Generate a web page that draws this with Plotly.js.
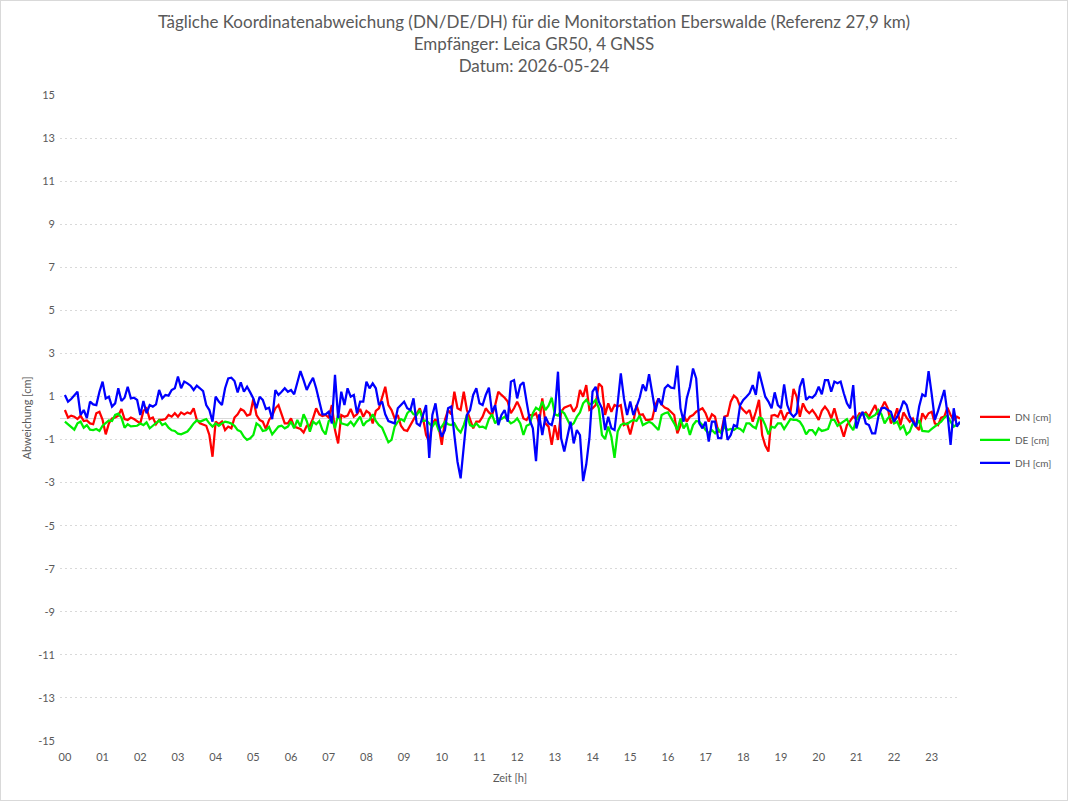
<!DOCTYPE html>
<html>
<head>
<meta charset="utf-8">
<script src="https://cdn.plot.ly/plotly-3.0.1.min.js"></script>
<style>
html,body{margin:0;padding:0;background:#fff;}
#chart{width:1066px;height:799px;border:1px solid #d9d9d9;}
</style>
</head>
<body>
<div id="chart"></div>
<script>
// Sampling interval of the monitor station (minutes)
const intervalMinutes = 5;

const hourLabels = ["00","01","02","03","04","05","06","07","08","09","10","11","12","13","14","15","16","17","18","19","20","21","22","23"];
const hourTicks = [0,1,2,3,4,5,6,7,8,9,10,11,12,13,14,15,16,17,18,19,20,21,22,23];
const yTicks = [-15,-13,-11,-9,-7,-5,-3,-1,1,3,5,7,9,11,13,15];
const yTickLabels = ["-15","-13","-11","-9","-7","-5","-3","-1","1","3","5","7","9","11","13","15"];

const dn = [
0.37,0.02,0.11,0.06,-0.05,0.11,-0.14,-0.11,-0.25,-0.29,0.22,0.29,-0.09,-0.76,-0.25,-0.02,0.02,0.11,0.42,-0.05,-0.09,0.02,-0.05,
-0.17,-0.25,0.33,0.45,-0.05,0.02,-0.29,-0.09,-0.09,-0.05,0.14,0.06,0.22,0.06,0.26,0.17,0.26,0.2,0.45,-0.09,-0.25,-0.29,-0.36,-0.79,
-1.8,-0.17,-0.29,-0.17,-0.56,-0.4,-0.48,0.02,0.17,0.42,0.33,0.11,0.17,0.88,0.14,-0.09,-0.17,-0.51,-0.09,0.11,0.45,0.6,0.14,-0.25,
-0.25,-0.02,-0.4,-0.45,-0.51,-0.67,-0.36,-0.36,-0.02,0.45,0.17,0.09,0.14,0.02,0.6,-0.56,-1.18,0.14,0.06,0.11,0.42,0.06,0.17,0.42,
0.06,0.33,0.22,-0.25,0.33,0.45,0.94,1.45,0.6,0.37,-0.02,0.14,-0.36,-0.56,-0.6,-0.33,-0.02,0.22,0.45,0.02,-0.79,-1.1,-0.25,-0.05,
-0.4,-1.25,-0.09,0.37,0.17,1.22,0.45,0.37,1.22,0.37,-0.09,-0.48,-0.17,-0.17,0.06,0.45,0.26,0.14,0.6,1.22,1.07,0.94,0.76,0.22,
0.45,0.76,0.45,-0.02,-0.09,0.14,0.11,0.22,-0.25,0.91,-0.25,-0.4,-1.25,-0.33,-1.02,0.29,0.48,0.53,0.6,0.29,0.53,1.3,0.99,1.53,
0.37,0.45,0.6,1.6,1.45,0.14,0.68,0.29,0.6,0.53,0.6,-0.33,-0.25,-0.76,-0.17,0.6,0.14,0.17,-0.09,-0.09,-0.05,0.6,0.91,0.63,
0.48,0.42,0.29,0.14,-0.71,-0.36,0.14,-0.17,0.06,0.14,0.29,0.37,0.45,0.22,-0.17,0.17,0.06,-0.63,-0.63,0.06,0.11,0.76,1.04,
0.91,0.53,0.37,0.22,0.37,-0.17,0.29,0.84,-0.79,-1.28,-1.56,0.11,0.14,0.06,0.37,-0.09,0.22,0.26,1.35,0.99,0.06,0.68,0.37,0.22,
0.37,0.17,-0.09,0.33,0.53,0.33,-0.02,0.45,-0.09,-0.4,-0.87,-0.33,-0.14,0.06,-0.05,0.22,0.17,0.26,0.06,0.37,0.6,0.14,0.45,0.76,
0.45,-0.25,-0.02,0.45,-0.33,0.26,0.02,-0.17,-0.02,-0.4,-0.56,0.22,-0.02,0.22,0.29,-0.25,-0.33,0.02,0.06,0.48,0.14,-0.09,0.06,-0.02
];

const de = [
-0.17,-0.29,-0.39,-0.54,-0.25,-0.17,-0.45,-0.33,-0.54,-0.56,-0.51,-0.6,-0.36,-0.25,-0.11,-0.14,0.14,0.2,0.02,-0.45,-0.29,-0.39,-0.39,
-0.36,-0.26,-0.33,-0.2,-0.48,-0.36,-0.25,-0.11,-0.33,-0.25,-0.45,-0.57,-0.6,-0.73,-0.76,-0.7,-0.63,-0.45,-0.25,-0.11,-0.17,-0.11,-0.05,-0.25,
-0.4,-0.25,-0.36,-0.25,-0.17,-0.2,-0.26,-0.36,-0.56,-0.63,-0.87,-1.02,-0.94,-0.79,-0.25,-0.36,-0.6,-0.57,-0.42,-0.76,-0.6,-0.4,-0.36,-0.48,
-0.4,-0.17,-0.48,-0.09,-0.4,0.17,-0.14,-0.63,-0.17,-0.29,-0.14,-0.56,-0.76,-0.14,-0.02,-0.48,0.17,-0.25,-0.29,-0.33,-0.17,-0.36,-0.14,0.06,
-0.36,-0.17,-0.09,0.17,-0.14,-0.33,-0.45,-0.76,-1.13,-1.02,-0.4,-0.17,-0.05,-0.14,0.22,0.37,0.17,0.14,0.37,-0.14,-0.11,-0.25,-0.4,-0.17,
-0.56,-0.4,-0.17,-0.29,-0.33,-0.25,-0.51,-0.67,-0.33,0.14,-0.33,-0.4,-0.25,-0.42,-0.4,-0.48,-0.05,0.17,-0.25,-0.02,-0.05,0.06,-0.09,-0.25,
-0.17,-0.02,-0.25,-0.79,-0.36,-0.29,0.22,0.48,0.37,0.76,0.37,0.57,0.94,0.17,0.11,0.33,0.22,-0.09,-0.36,-0.25,0.06,0.26,0.68,0.84,
0.63,0.68,0.84,0.45,-0.79,-0.98,-0.4,-0.87,-1.85,-0.63,-0.33,-0.25,-0.29,-0.17,-0.09,-0.14,0.11,-0.33,-0.25,-0.17,-0.25,-0.4,-0.56,0.14,
0.22,0.26,0.02,-0.25,-0.56,-0.02,-0.48,-0.25,-0.79,-0.33,-0.14,-0.17,-0.33,-0.56,-0.71,-0.56,-0.71,-0.51,-0.71,-0.4,-0.56,-0.51,-0.56,
-0.45,-0.51,-0.63,-0.25,-0.25,-0.4,-0.48,0.02,-0.02,-0.33,-0.76,-0.4,-0.45,-0.25,-0.25,-0.51,-0.25,-0.05,-0.09,-0.09,-0.17,-0.4,-0.76,-0.56,
-0.56,-0.76,-0.48,-0.6,-0.56,-0.51,-0.09,-0.09,-0.36,-0.25,-0.17,-0.05,-0.36,-0.56,-0.09,0.11,0.2,0.17,-0.02,0.06,0.14,0.37,0.17,-0.25,
-0.02,0.14,-0.25,-0.17,-0.51,-0.36,-0.76,-0.63,-0.25,-0.36,-0.09,-0.6,-0.6,-0.63,-0.51,-0.4,-0.29,-0.17,0.02,0.11,-0.17,-0.4,-0.29,-0.25
];

const dh = [
1.07,0.76,0.88,1.04,1.22,0.14,0.37,0,0.76,0.63,0.6,1.22,1.69,0.91,0.99,0.53,0.68,1.38,0.79,0.94,1.45,0.91,0.94,
0.84,0.14,0.79,0.22,0.6,0.53,0.63,1.3,0.91,1.07,1.04,1.3,1.38,1.92,1.38,1.69,1.61,1.5,1.3,1.5,1.38,1.25,0.6,0.37,
-0.17,0.99,0.76,0.6,1.38,1.84,1.87,1.72,1.19,1.66,1.22,1.45,1.19,0.91,0.45,0.99,0.84,0.42,0.48,-0.05,1.3,1.07,1.22,1.38,
1.22,1.3,1.1,1.61,2.18,1.76,1.3,1.61,1.87,1.38,0.84,0.17,0.17,0.29,-0.25,2.0,0,1.22,0.6,1.38,0.99,1.07,0.22,0.76,
0.76,1.69,1.38,1.61,1.38,0.6,0.76,0.17,-0.14,-0.2,-0.25,0.45,0.6,0.76,0.45,0.37,0.91,-0.25,-0.36,0.14,0.6,-1.85,0.14,0.68,
-0.33,-0.87,-0.56,0.45,0.53,-0.79,-2.03,-2.8,-1.25,0.14,0.37,1.07,1.38,0.68,0.6,1.07,1.41,0.26,0.6,-0.33,0.14,0.37,-0.17,1.69,
1.76,0.91,1.53,1.66,0.76,-0.09,-0.48,-2.0,0.17,-0.79,0.06,-0.25,-0.33,0.29,2.15,-0.94,-1.56,-0.79,-0.17,-1.18,-0.56,-0.79,-2.93,-2.15,
-0.94,1.22,1.45,0.76,0.45,-0.56,0.06,-0.48,-0.56,0.68,2.07,0.91,0.14,0.76,0.14,0.53,0.94,1.56,1.25,2.03,1.22,0.29,0.91,0.6,
1.38,1.53,1.41,1.38,2.43,0.45,-0.17,0.91,1.45,2.3,1.84,-0.25,-0.48,-0.17,-1.1,-0.17,-0.17,-0.94,-0.94,0.06,-1.02,-0.79,-0.33,
-0.4,0.6,0.84,0.99,1.15,1.53,1.07,2.15,1.61,0.99,0.76,0.45,1.19,0.6,0.45,1.56,0.6,0.22,0.06,0.22,1.45,1.84,0.84,0.99,
0.94,1.1,1.45,1.1,1.76,1.76,1.22,1.69,1.61,1.69,1.15,0.68,0.45,1.53,-0.48,0,0.29,-0.25,-0.33,-0.71,-0.71,0.06,0.45,0.48,
0.37,0.29,-0.17,0.06,0.37,0.79,0.6,0.06,-0.17,-0.4,0.53,1.1,0.99,2.18,1.1,-0.09,0.33,0.84,1.3,0.22,-1.25,0.45,-0.4,-0.17
];

// time of each sample in hours since midnight
const timeHours = dn.map((_, i) => i * intervalMinutes / 60);

const grey = '#595959';
const font = 'Lato, "Open Sans", sans-serif';

const mk = (name, y, color, grp) => ({
  type: 'scatter', mode: 'lines', name: name, x: timeHours, y: y,
  line: {color: color, width: 2.25}, legendgroup: grp
});

const data = [
  mk('DN [cm]', dn, '#ff0000', 'a'),
  mk('DE [cm]', de, '#00ee00', 'b'),
  mk('DH [cm]', dh, '#0000ff', 'c')
];

const W = 1066, H = 799;
const mL = 59, mR = 10, mT = 94, mB = 59;
const plotW = W - mL - mR;

const layout = {
  width: W, height: H,
  margin: {l: mL, r: mR, t: mT, b: mB, autoexpand: false},
  paper_bgcolor: '#fff', plot_bgcolor: '#fff',
  font: {family: font, color: grey, size: 11},
  title: {
    text: 'Tägliche Koordinatenabweichung (DN/DE/DH) für die Monitorstation Eberswalde (Referenz 27,9 km)<br>Empfänger: Leica GR50, 4 GNSS<br>Datum: 2026-05-24',
    font: {family: font, size: 17, color: grey},
    x: 0.5, xanchor: 'center', xref: 'container',
    y: 1 - 27 / H, yanchor: 'middle', yref: 'container'
  },
  xaxis: {
    domain: [0, 900 / plotW],
    range: [-0.13, 23.75],
    tickvals: hourTicks, ticktext: hourLabels,
    showgrid: false, zeroline: false, showline: false,
    ticks: '', ticklabelstandoff: 8, tickfont: {size: 11, color: grey},
    title: {text: 'Zeit [h]', font: {size: 11, color: grey}, standoff: 12},
    fixedrange: true
  },
  yaxis: {
    range: [-15, 15],
    tickvals: yTicks, ticktext: yTickLabels,
    showgrid: true, gridcolor: '#d9d9d9', griddash: '2px,3px', gridwidth: 1,
    zeroline: true, zerolinecolor: '#d9d9d9', zerolinewidth: 1,
    showline: false, ticks: '', ticklabelstandoff: 4,
    tickfont: {size: 11, color: grey},
    title: {text: 'Abweichung [cm]', font: {size: 11, color: grey}, standoff: 4},
    fixedrange: true
  },
  showlegend: true,
  legend: {
    x: (975 - 60) / plotW, xanchor: 'left', y: 0.466, yanchor: 'middle',
    font: {size: 10, color: grey}, traceorder: 'grouped', tracegroupgap: 4,
    bgcolor: 'rgba(0,0,0,0)'
  }
};

Plotly.newPlot('chart', data, layout, {displayModeBar: false, staticPlot: true});
</script>
</body>
</html>
